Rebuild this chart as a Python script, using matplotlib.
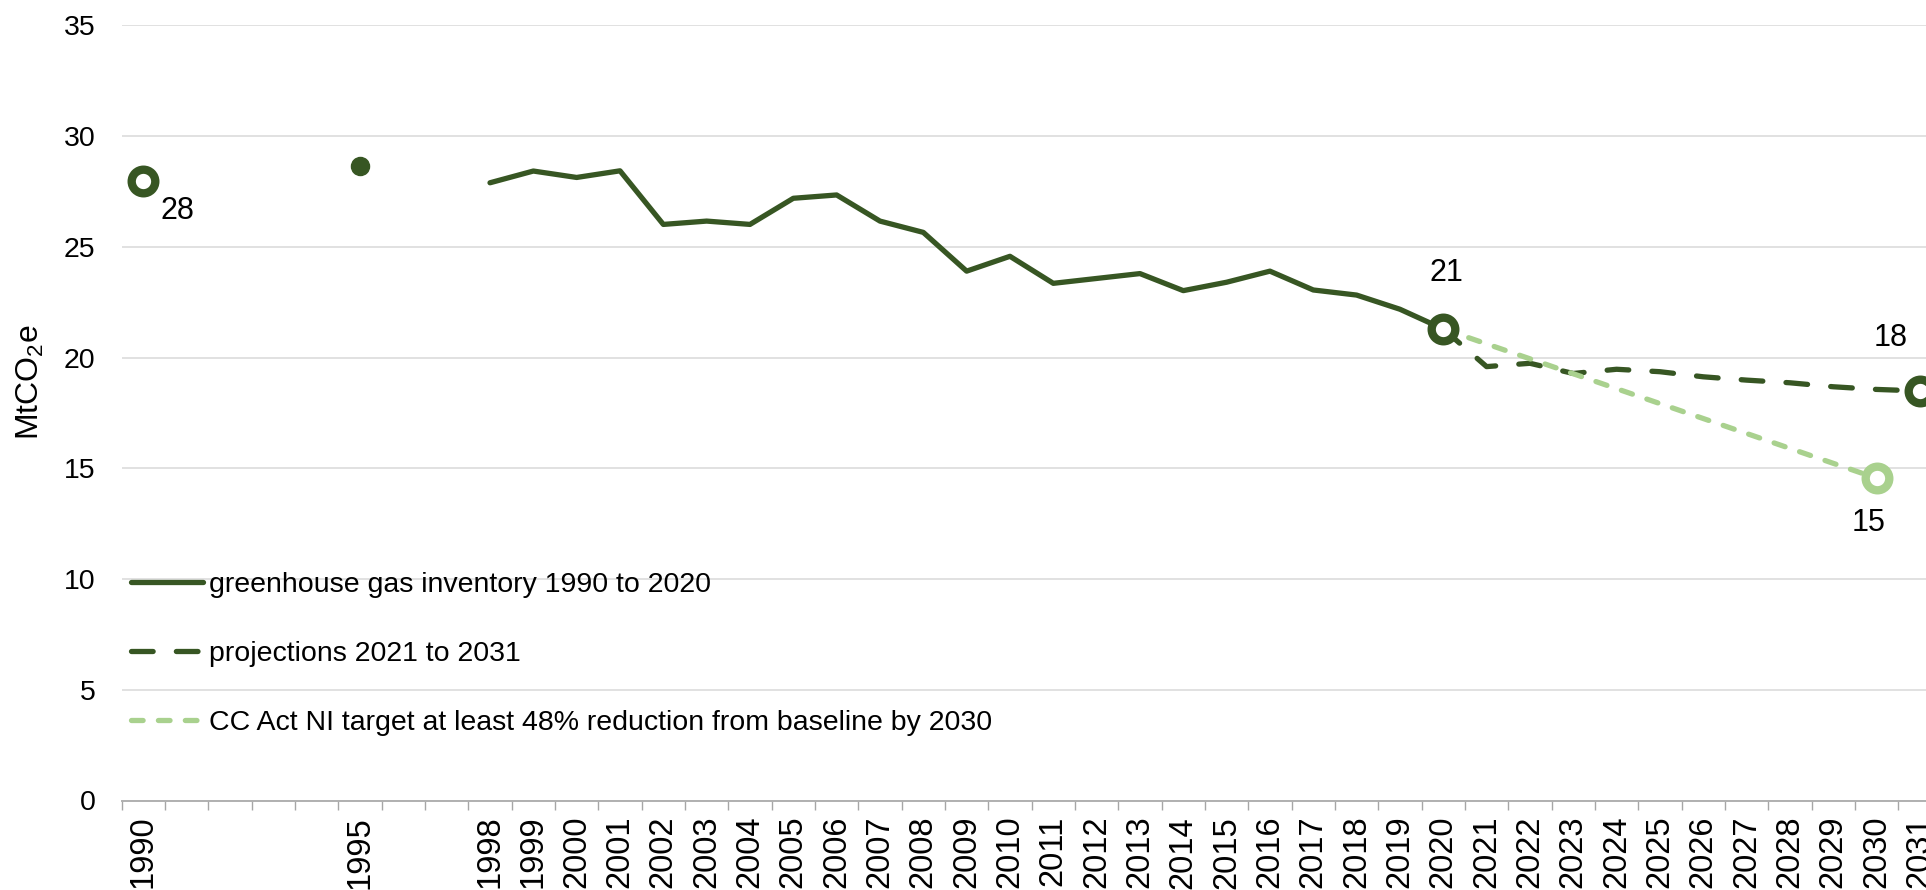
import numpy as np
import pandas as pd
import matplotlib
matplotlib.use("Agg")
import matplotlib.pyplot as plt

plt.rcParams['font.family'] = ['Liberation Sans', 'DejaVu Sans']
plt.rcParams['mathtext.fontset'] = 'custom'
plt.rcParams['mathtext.rm'] = 'Liberation Sans'
plt.rcParams['mathtext.it'] = 'Liberation Sans'
plt.rcParams['mathtext.bf'] = 'Liberation Sans'

# ---------------- data ----------------
years = list(range(1990, 2032))
tick_labels = [str(y) if (y in (1990, 1995) or y >= 1998) else '' for y in years]

inventory_years = [1990, 1995, 1998, 1999, 2000, 2001, 2002, 2003, 2004, 2005, 2006,
                   2007, 2008, 2009, 2010, 2011, 2012, 2013, 2014, 2015, 2016,
                   2017, 2018, 2019, 2020]
inventory_values = [27.95, 28.66, 27.89, 28.42, 28.13, 28.43, 26.01, 26.16, 26.01, 27.19, 27.34,
                    26.16, 25.65, 23.90, 24.57, 23.35, 23.57, 23.79, 23.02, 23.40, 23.90,
                    23.05, 22.82, 22.18, 21.29]

projection_years = [2020, 2021, 2022, 2023, 2024, 2025, 2026, 2027, 2028, 2029, 2030, 2031]
projection_values = [21.29, 19.59, 19.74, 19.28, 19.47, 19.36, 19.13, 18.98, 18.86, 18.68, 18.56, 18.49]

target_years = [2020, 2030]
target_values = [21.29, 14.55]

series_names = ["greenhouse gas inventory 1990 to 2020",
                "projections 2021 to 2031",
                "CC Act NI target at least 48% reduction from baseline by 2030"]

DARK = '#375623'
LIGHT = '#A9D18E'

# ---------------- figure ----------------
W, H = 1926, 890
fig = plt.figure(figsize=(W / 100, H / 100), dpi=100)
ax_left, ax_bottom_px, ax_top_px, cat_w = 121.7, 800.5, 25.3, 43.33
ax = fig.add_axes([ax_left / W, 1 - ax_bottom_px / H,
                   len(years) * cat_w / W, (ax_bottom_px - ax_top_px) / H])

inv = pd.Series(inventory_values, index=inventory_years).reindex(years)

lw = 3.8
l_inv, = ax.plot(years, inv.values, color=DARK, lw=lw, solid_capstyle='round',
                 solid_joinstyle='round', zorder=3)
l_proj, = ax.plot(projection_years, projection_values, color=DARK, lw=lw,
                  linestyle=(0, (4.1, 4.4)), dash_capstyle='round', zorder=3)
l_tgt, = ax.plot(target_years, target_values, color=LIGHT, lw=lw,
                 linestyle=(0, (2.2, 2.9)), dash_capstyle='round', zorder=4)

# markers
open_kw = dict(marker='o', markersize=17, markerfacecolor='white', markeredgewidth=6,
               linestyle='none', zorder=6)
i1990 = inventory_years.index(1990)
i1995 = inventory_years.index(1995)
i2020 = inventory_years.index(2020)
ax.plot([inventory_years[i1990]], [inventory_values[i1990]], markeredgecolor=DARK, **open_kw)
ax.plot([inventory_years[i2020]], [inventory_values[i2020]], markeredgecolor=DARK, **open_kw)
ax.plot([projection_years[-1]], [projection_values[-1]], markeredgecolor=DARK, **open_kw)
ax.plot([target_years[-1]], [target_values[-1]], markeredgecolor=LIGHT, **open_kw)
ax.plot([inventory_years[i1995]], [inventory_values[i1995]], marker='o', markersize=13,
        color=DARK, linestyle='none', zorder=6)

# data labels
lab_kw = dict(textcoords='offset pixels', ha='center', va='center', fontsize=22, color='black')
ax.annotate(f"{inventory_values[i1990]:.0f}", (inventory_years[i1990], inventory_values[i1990]),
            xytext=(34, -30), **lab_kw)
ax.annotate(f"{inventory_values[i2020]:.0f}", (inventory_years[i2020], inventory_values[i2020]),
            xytext=(3, 56), **lab_kw)
ax.annotate(f"{projection_values[-1]:.0f}", (projection_years[-1], projection_values[-1]),
            xytext=(-29, 53), **lab_kw)
ax.annotate(f"{target_values[-1]:.0f}", (target_years[-1], target_values[-1]),
            xytext=(-8, -45), **lab_kw)

# axes styling
ax.set_xlim(years[0] - 0.5, years[-1] + 0.5)
ax.set_ylim(0, 35)
ax.set_yticks(range(0, 36, 5))
ax.tick_params(axis='y', length=0, pad=19, labelsize=20.5, colors='black')
ax.grid(axis='y', color='#D9D9D9', lw=1.1, zorder=0)
ax.set_axisbelow(True)

ax.set_xticks([y - 0.5 for y in years] + [years[-1] + 0.5])
ax.set_xticklabels([])
ax.set_xticks(years, tick_labels, minor=True, rotation=90)
ax.tick_params(axis='x', which='major', length=6.8, width=1.0, color='#A6A6A6')
ax.tick_params(axis='x', which='minor', length=0, pad=11, labelsize=23.5, labelcolor='black')
for lab in ax.get_xticklabels(minor=True):
    lab.set_va('top')

for s in ('left', 'right', 'top'):
    ax.spines[s].set_visible(False)
ax.spines['bottom'].set_color('#B0B0B0')
ax.spines['bottom'].set_linewidth(1.4)

ax.set_ylabel(r'MtCO$_\mathregular{2}$e', fontsize=23, ha='center', va='center')
ax.yaxis.set_label_coords((30 - ax_left) / (len(years) * cat_w), (ax_bottom_px - 382) / (ax_bottom_px - ax_top_px))

leg = ax.legend([l_inv, l_proj, l_tgt], series_names, loc='upper left',
                bbox_to_anchor=(131 / W, 1 - 572 / H), bbox_transform=fig.transFigure,
                frameon=False, fontsize=20.5, borderpad=0, borderaxespad=0,
                handlelength=2.53, handletextpad=0.21, labelspacing=1.51)

fig.savefig('out.png', dpi=100, facecolor='white')
